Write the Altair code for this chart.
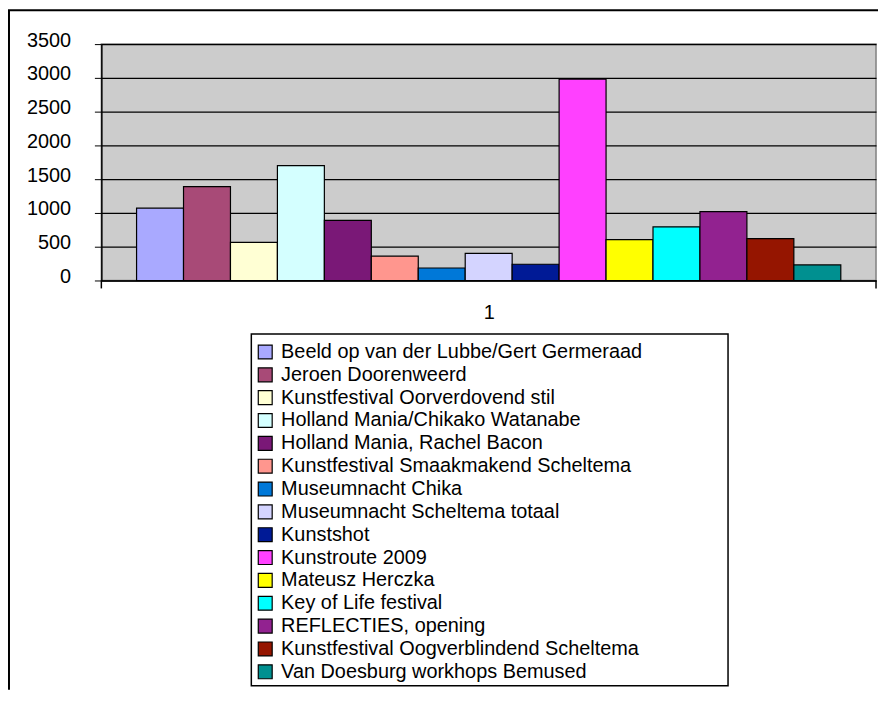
import altair as alt
import pandas as pd

series = [
    "Beeld op van der Lubbe/Gert Germeraad",
    "Jeroen Doorenweerd",
    "Kunstfestival  Oorverdovend stil",
    "Holland Mania/Chikako Watanabe",
    "Holland Mania, Rachel Bacon",
    "Kunstfestival Smaakmakend Scheltema",
    "Museumnacht Chika",
    "Museumnacht Scheltema totaal",
    "Kunstshot",
    "Kunstroute 2009",
    "Mateusz Herczka",
    "Key of Life festival",
    "REFLECTIES, opening",
    "Kunstfestival Oogverblindend Scheltema",
    "Van Doesburg workhops Bemused",
]
values = [1070, 1390, 565, 1700, 890, 360, 185, 400, 240, 2980, 605, 795, 1020, 620, 230]
colors = [
    "#A9A9FF", "#A84A77", "#FFFFD4", "#D4FFFF", "#7A1877",
    "#FF968E", "#0078D8", "#D4D4FF", "#001A96", "#FF40FF",
    "#FFFF00", "#00FFFF", "#922290", "#951500", "#009090",
]
y_ticks = [0, 500, 1000, 1500, 2000, 2500, 3000, 3500]
x_label = "1"

FONT = "Liberation Sans"
FS = 20
W, H = 780, 238
PAD_L, PAD_T, PAD_R, TOTAL_H = 94, 34, 2, 684
PAD_B = TOTAL_H - PAD_T - H

df = pd.DataFrame({"series": series, "value": values})

bars = alt.Chart(df).mark_bar(stroke="black", strokeWidth=1.2).encode(
    x=alt.X(
        "series:N",
        sort=series,
        scale=alt.Scale(paddingInner=0, paddingOuter=0.75),
        axis=alt.Axis(
            labels=False, ticks=False, grid=False, title=x_label,
            domainColor="black", domainWidth=1.5,
            titleFont=FONT, titleFontSize=FS, titleFontWeight="normal",
            titleColor="black", titleX=390, titlePadding=22, titleBaseline="top",
        ),
    ),
    y=alt.Y(
        "value:Q",
        scale=alt.Scale(domain=[0, 3500], nice=False),
        axis=alt.Axis(
            values=y_ticks, format="d", title=None, grid=True, gridColor="black", gridWidth=1.2,
            domainColor="black", domainWidth=1.5, tickColor="black", tickSize=7,
            labelFont=FONT, labelFontSize=FS, labelColor="black",
            labelPadding=24, labelOffset=-4,
        ),
    ),
    color=alt.Color(
        "series:N",
        sort=series,
        scale=alt.Scale(domain=series, range=colors),
        legend=alt.Legend(
            title=None, orient="none", legendX=155, legendY=300,
            symbolType="square", symbolSize=196, symbolStrokeColor="black",
            symbolStrokeWidth=1.2, symbolOpacity=1,
            labelFont=FONT, labelFontSize=FS, labelColor="black",
            labelLimit=600, labelOffset=6, rowPadding=3, padding=0,
        ),
    ),
)

one = pd.DataFrame({"k": [0]})

legend_box = alt.Chart(one).mark_rect(fill="white", stroke="black", strokeWidth=1.5).encode(
    x=alt.value(151), x2=alt.value(631), y=alt.value(292), y2=alt.value(646)
)

border_left = alt.Chart(one).mark_rule(color="black", strokeWidth=2).encode(
    x=alt.value(-PAD_L + 1), y=alt.value(-34), y2=alt.value(TOTAL_H - PAD_T)
)
border_top = alt.Chart(one).mark_rule(color="black", strokeWidth=2).encode(
    x=alt.value(-PAD_L), x2=alt.value(W + PAD_R), y=alt.value(-34)
)
end_tick_l = alt.Chart(one).mark_rule(color="black", strokeWidth=1.5).encode(
    x=alt.value(0), y=alt.value(H), y2=alt.value(H + 8)
)
end_tick_r = alt.Chart(one).mark_rule(color="black", strokeWidth=1.5).encode(
    x=alt.value(W), y=alt.value(H), y2=alt.value(H + 8)
)

chart = alt.layer(
    bars, legend_box, border_left, border_top, end_tick_l, end_tick_r
).properties(
    width=W, height=H,
    autosize=alt.AutoSizeParams(type="none"),
    padding={"left": PAD_L, "top": PAD_T, "right": PAD_R, "bottom": PAD_B},
    background="white",
).configure_view(
    fill="#CCCCCC", stroke="#808080", strokeWidth=1.5
)

chart.save("out.html", embed_options={"renderer": "svg", "actions": False})
